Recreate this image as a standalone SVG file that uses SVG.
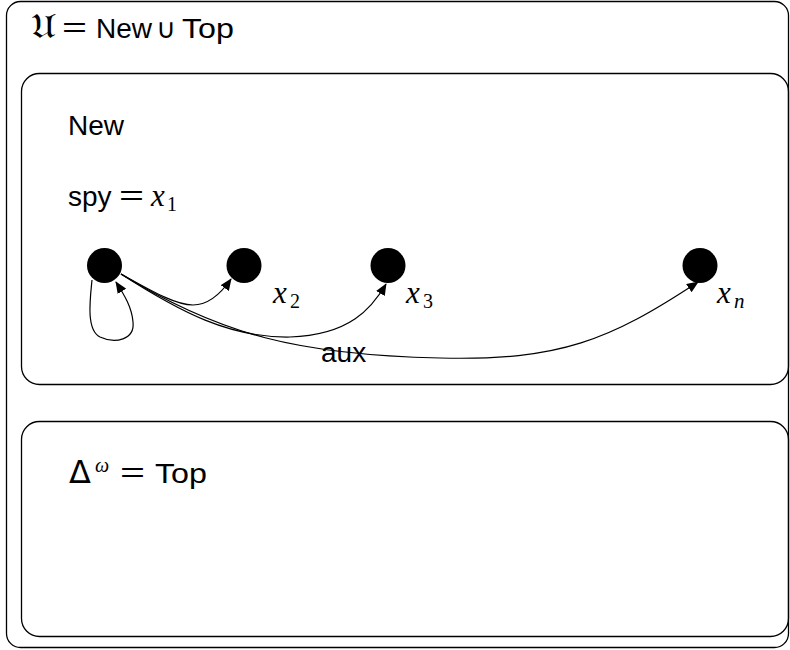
<svg xmlns="http://www.w3.org/2000/svg" width="790" height="650" viewBox="0 0 790 650">
<style>
.box{fill:none;stroke:#000;stroke-width:1.3}
.t{font-family:"Liberation Sans","DejaVu Sans",sans-serif;font-size:28px;fill:#000}
.m{font-family:"Liberation Serif","DejaVu Serif",serif;font-style:italic;font-size:31px;fill:#000}
.sub{font-family:"Liberation Serif","DejaVu Serif",serif;font-style:normal;font-size:20px;fill:#000}
.subi{font-family:"Liberation Serif","DejaVu Serif",serif;font-style:italic;font-size:21px;fill:#000}
.eq{font-family:"Liberation Sans","DejaVu Sans",sans-serif;font-size:28px;fill:#000}
.node{fill:#000}
.e{fill:none;stroke:#000;stroke-width:1.2}
</style>
<defs>
<marker id="ah" viewBox="0 0 12 10" refX="11" refY="5" markerWidth="12" markerHeight="10" markerUnits="userSpaceOnUse" orient="auto">
<path d="M0,0 L12,5 L0,10 z" fill="#000"/>
</marker>
</defs>
<g id="universe">
<rect class="box" x="6.5" y="1.5" width="782" height="646" rx="14"/>
<text x="31" y="38" font-family="DejaVu Serif,serif" font-size="34" fill="#000" textLength="25" lengthAdjust="spacingAndGlyphs">𝔘</text>
<text class="eq" x="62" y="37" textLength="25" lengthAdjust="spacingAndGlyphs">=</text>
<text class="t" x="96" y="38">New</text>
<text x="156" y="38" font-family="DejaVu Sans,sans-serif" font-size="27" fill="#000">∪</text>
<text class="t" x="182" y="38" font-size="30" textLength="52" lengthAdjust="spacingAndGlyphs">Top</text>
</g>
<g id="new">
<rect class="box" x="21.5" y="73.5" width="767" height="311" rx="18"/>
<text class="t" x="68" y="135">New</text>
<text class="t" x="68" y="206">spy</text>
<text class="eq" x="119" y="205" textLength="25" lengthAdjust="spacingAndGlyphs">=</text>
<text class="m" x="151" y="206">x</text>
<text class="sub" x="167" y="211">1</text>
</g>
<g id="top">
<rect class="box" x="21.5" y="421.5" width="767" height="215" rx="18"/>
<text x="69" y="483" font-family="DejaVu Sans,sans-serif" font-size="32" fill="#000">Δ</text>
<text x="95" y="472" font-family="Liberation Serif,serif" font-style="italic" font-size="20" fill="#000">ω</text>
<text class="eq" x="120" y="482" textLength="25" lengthAdjust="spacingAndGlyphs">=</text>
<text class="t" x="155" y="483" font-size="30" textLength="52" lengthAdjust="spacingAndGlyphs">Top</text>
</g>
<g id="n1"><circle class="node" cx="104.5" cy="265.5" r="17.5"/></g>
<g id="n2"><circle class="node" cx="244" cy="265.5" r="17.5"/><text class="m" x="273" y="303">x</text><text class="sub" x="290" y="308">2</text></g>
<g id="n3"><circle class="node" cx="388" cy="265.5" r="17.5"/><text class="m" x="406" y="303">x</text><text class="sub" x="423" y="308">3</text></g>
<g id="nn"><circle class="node" cx="700" cy="265.5" r="17.5"/><text class="m" x="717" y="303">x</text><text class="subi" x="734" y="308">n</text></g>
<g id="edges">
<path class="e" marker-end="url(#ah)" d="M92,280 C90,300 86,330 100,337 C115,344 135,340 133,322 C132,308 125,296 116,282"/>
<path class="e" marker-end="url(#ah)" d="M121,274 C150,290 175,305 193,305 C210,305 222,292 231,279"/>
<path class="e" marker-end="url(#ah)" d="M121,274 C180,312 230,338 290,337 C350,335 372,308 386,284"/>
<path class="e" marker-end="url(#ah)" d="M121,274 C220,335 300,355 440,358 C560,361 610,340 698,282"/>
<text class="t" x="321" y="362" font-size="27">aux</text>
</g>
</svg>
